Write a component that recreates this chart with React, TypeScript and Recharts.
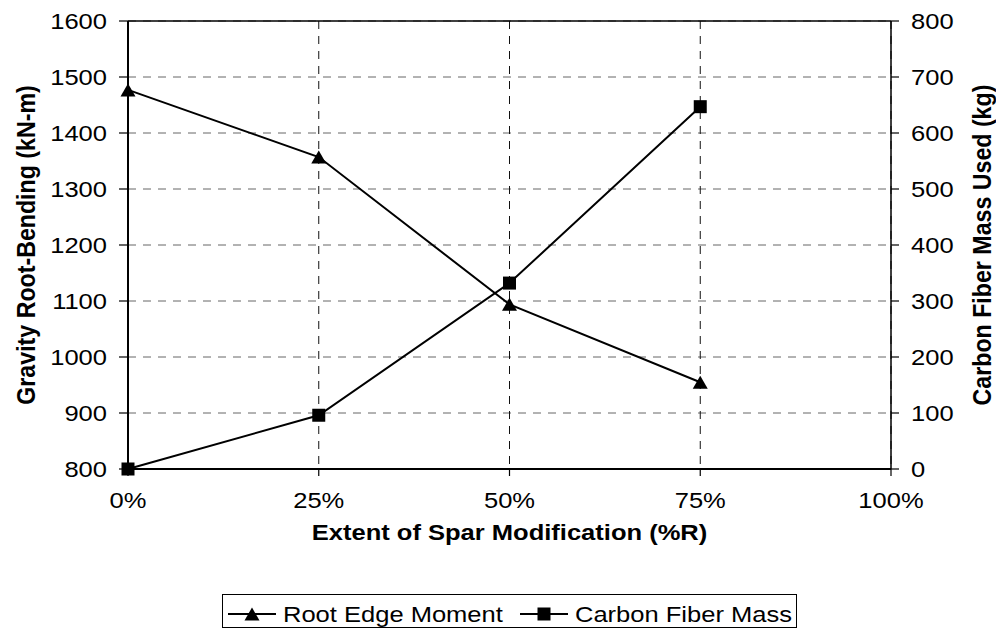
import React from "react";
import {
  LineChart,
  Line,
  XAxis,
  YAxis,
  CartesianGrid,
  ReferenceLine,
  Legend,
} from "recharts";

const extent = [0, 25, 50, 75];
const rootEdgeMoment = [1477, 1357, 1094, 955];
const carbonFiberMass = [0, 96, 332, 647];

const xTicks = [0, 25, 50, 75, 100];
const xMinorTicks = [4, 8, 12, 16, 20, 24, 28, 32, 36, 40, 44, 48, 52, 56, 60, 64, 68, 72, 76, 80, 84, 88, 92, 96];
const leftTicks = [800, 900, 1000, 1100, 1200, 1300, 1400, 1500, 1600];
const leftMinorTicks = [
  820, 840, 860, 880, 920, 940, 960, 980, 1020, 1040, 1060, 1080, 1120, 1140, 1160, 1180,
  1220, 1240, 1260, 1280, 1320, 1340, 1360, 1380, 1420, 1440, 1460, 1480, 1520, 1540, 1560, 1580,
];
const rightTicks = [0, 100, 200, 300, 400, 500, 600, 700, 800];
const legendOrder = ["root", "carbon"];

const data = extent.map((x, i) => ({
  x,
  root: rootEdgeMoment[i],
  carbon: carbonFiberMass[i],
}));

const FONT = "'Liberation Sans', Arial, sans-serif";
const FS = 22.4;
const SX = 1.14; // the source image is a bit stretched sideways

function YTick(props: any) {
  const { x, y, payload, textAnchor } = props;
  return (
    <text
      transform={`translate(${x},${y}) scale(${SX},1)`}
      textAnchor={textAnchor}
      dy="0.36em"
      fontFamily={FONT}
      fontSize={FS}
      fill="#000"
    >
      {payload.value}
    </text>
  );
}

function XTick(props: any) {
  const { x, y, payload } = props;
  return (
    <text
      transform={`translate(${x},${y + 32}) scale(${SX},1)`}
      textAnchor="middle"
      fontFamily={FONT}
      fontSize={FS}
      fill="#000"
    >
      {payload.value + "%"}
    </text>
  );
}

function VTitle(props: any, text: string, baseX: number) {
  const { viewBox } = props;
  const cy = viewBox.y + viewBox.height / 2;
  return (
    <text
      transform={`translate(${baseX},${cy}) scale(${SX},1) rotate(-90)`}
      textAnchor="middle"
      fontFamily={FONT}
      fontSize={23.2}
      fontWeight="bold"
      fill="#000"
    >
      {text}
    </text>
  );
}

function XTitle(props: any) {
  const { viewBox } = props;
  return (
    <text
      transform={`translate(${viewBox.x + viewBox.width / 2},${viewBox.y + 71}) scale(${SX},1)`}
      textAnchor="middle"
      fontFamily={FONT}
      fontSize={FS}
      fontWeight="bold"
      fill="#000"
    >
      Extent of Spar Modification (%R)
    </text>
  );
}

function triangle(cx: number, cy: number) {
  return `M${cx},${cy - 6.5} L${cx + 7.5},${cy + 6.5} L${cx - 7.5},${cy + 6.5} Z`;
}

function TriangleDot(props: any) {
  const { cx, cy, index } = props;
  return <path key={`t${index}`} d={triangle(cx, cy)} fill="#000" />;
}

function SquareDot(props: any) {
  const { cx, cy, index } = props;
  return <rect key={`s${index}`} x={cx - 6.5} y={cy - 6.5} width={13} height={13} fill="#000" />;
}

const LEGEND_W = 575;
const legendOffsets = [0, 292];

function LegendBox(props: any) {
  const items = [...(props.payload || [])].sort(
    (a: any, b: any) => legendOrder.indexOf(a.dataKey) - legendOrder.indexOf(b.dataKey)
  );
  return (
    <svg width={LEGEND_W} height={34} style={{ display: "block" }}>
      <rect x={0.5} y={0.5} width={LEGEND_W - 1} height={33} fill="#fff" stroke="#000" strokeWidth={1} />
      {items.map((entry: any, i: number) => {
        const ox = legendOffsets[i];
        return (
          <g key={entry.value}>
            <line x1={ox + 6} x2={ox + 54} y1={20} y2={20} stroke="#000" strokeWidth={2} />
            {entry.dataKey === "root" ? (
              <path d={triangle(ox + 30, 20)} fill="#000" />
            ) : (
              <rect x={ox + 23.5} y={13.5} width={13} height={13} fill="#000" />
            )}
            <text
              transform={`translate(${ox + 61},28) scale(${SX},1)`}
              fontFamily={FONT}
              fontSize={FS}
              fill="#000"
            >
              {entry.value}
            </text>
          </g>
        );
      })}
    </svg>
  );
}

export default function App() {
  return (
    <div style={{ position: "fixed", left: 0, top: 0, width: 996, height: 632, background: "#fff" }}>
      <LineChart
        width={996}
        height={632}
        data={data}
        margin={{ top: 21, right: 0, bottom: 4, left: 0 }}
      >
        <XAxis
          xAxisId="minor"
          dataKey="x"
          type="number"
          domain={[0, 100]}
          ticks={xMinorTicks}
          height={0}
          mirror
          axisLine={false}
          tick={false}
          tickSize={6}
          tickLine={{ stroke: "#000", strokeWidth: 1.2 }}
        />
        <YAxis
          yAxisId="leftMinor"
          type="number"
          domain={[800, 1600]}
          ticks={leftMinorTicks}
          width={0}
          mirror
          axisLine={false}
          tick={false}
          tickSize={6}
          tickLine={{ stroke: "#000", strokeWidth: 1.2 }}
        />
        <CartesianGrid
          xAxisId="x"
          yAxisId="left"
          vertical={false}
          stroke="#666"
          strokeDasharray="8 7"
        />
        <CartesianGrid
          xAxisId="x"
          yAxisId="left"
          horizontal={false}
          stroke="#111"
          strokeDasharray="8 7"
        />
        <XAxis
          xAxisId="x"
          dataKey="x"
          type="number"
          domain={[0, 100]}
          ticks={xTicks}
          height={125}
          tickSize={7}
          tickMargin={0}
          axisLine={{ stroke: "#000", strokeWidth: 2 }}
          tickLine={{ stroke: "#000", strokeWidth: 1.2 }}
          tick={<XTick />}
          label={{ content: (p: any) => <XTitle {...p} /> }}
        />
        <YAxis
          yAxisId="left"
          type="number"
          domain={[800, 1600]}
          ticks={leftTicks}
          width={128}
          tickSize={9}
          tickMargin={12}
          axisLine={{ stroke: "#000", strokeWidth: 2 }}
          tickLine={{ stroke: "#000", strokeWidth: 1.2 }}
          tick={<YTick />}
          label={{ content: (p: any) => VTitle(p, "Gravity Root-Bending (kN-m)", 35) }}
        />
        <YAxis
          yAxisId="right"
          orientation="right"
          type="number"
          domain={[0, 800]}
          ticks={rightTicks}
          width={105}
          tickSize={8}
          tickMargin={12}
          axisLine={{ stroke: "#000", strokeWidth: 1.5 }}
          tickLine={{ stroke: "#000", strokeWidth: 1.2 }}
          tick={<YTick />}
          label={{ content: (p: any) => VTitle(p, "Carbon Fiber Mass Used (kg)", 991) }}
        />
        <ReferenceLine xAxisId="x" yAxisId="left" y={1600} stroke="#000" strokeWidth={1.5} />
        <Legend
          verticalAlign="bottom"
          wrapperStyle={{ left: 222, width: LEGEND_W }}
          content={(p: any) => <LegendBox {...p} />}
        />
        <Line
          xAxisId="x"
          yAxisId="left"
          dataKey="root"
          name="Root Edge Moment"
          stroke="#000"
          strokeWidth={2}
          dot={(p: any) => <TriangleDot {...p} />}
          activeDot={false}
          isAnimationActive={false}
        />
        <Line
          xAxisId="x"
          yAxisId="right"
          dataKey="carbon"
          name="Carbon Fiber Mass"
          stroke="#000"
          strokeWidth={2}
          dot={(p: any) => <SquareDot {...p} />}
          activeDot={false}
          isAnimationActive={false}
        />
      </LineChart>
    </div>
  );
}
